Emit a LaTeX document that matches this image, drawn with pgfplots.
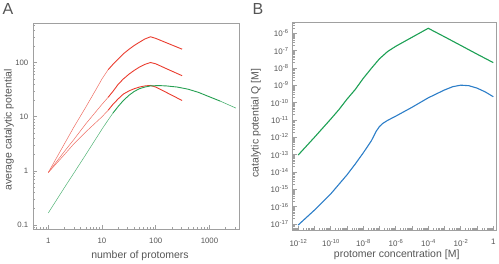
\documentclass[border=0pt]{standalone}
\usepackage{fontspec}
\setmainfont{Liberation Sans}
\usepackage{pgfplots}
\pgfplotsset{compat=1.18}
\definecolor{redA}{RGB}{234,60,46}
\definecolor{greenA}{RGB}{38,160,82}
\definecolor{greenB}{RGB}{28,160,84}
\definecolor{blueB}{RGB}{44,126,200}
\definecolor{axgray}{RGB}{160,160,160}
\definecolor{txtgray}{RGB}{85,85,85}
\newcommand{\tl}[1]{10\raisebox{0.7ex}{\fontsize{5.8}{6}\selectfont #1}}
\pgfplotsset{
  myax/.style={
    scale only axis,
    anchor=south west,
    axis line style={axgray, line width=0.9pt},
    every tick/.style={axgray, line width=0.6pt},
    major tick length=4pt,
    minor tick length=2pt,
    tick align=inside,
    xtick pos=bottom, ytick pos=left,
    tick label style={font=\fontsize{7.8}{8.5}\selectfont, text=txtgray},
    xticklabel style={anchor=north, inner sep=0pt, yshift=-9pt},
    yticklabel style={anchor=east, inner sep=0pt, xshift=-4.5pt},
  }
}
\tikzset{lab/.style={font=\fontsize{10.5}{12}\selectfont, text=txtgray, inner sep=0pt}}
\begin{document}
\begin{tikzpicture}
\useasboundingbox (0,0) rectangle (499pt,264pt);
\node[font=\fontsize{16}{18}\selectfont, text=txtgray] at (8pt,255pt) {A};
\node[font=\fontsize{16}{18}\selectfont, text=txtgray] at (258pt,255pt) {B};
\node[lab] at (140pt,8pt) {number of protomers};
\node[lab, rotate=90] at (9pt,134pt) {average catalytic potential};
\node[lab] at (396.7pt,9pt) {protomer concentration [M]};
\node[lab, rotate=90] at (256pt,141pt) {catalytic potential Q [M]};
\begin{loglogaxis}[myax,
  at={(33pt,35pt)}, width=206pt, height=206pt,
  xmin=0.52, xmax=3550, ymin=0.084, ymax=543,
  xtick={1,10,100,1000}, xticklabels={1,10,100,1000},
  ytick={0.1,1,10,100}, yticklabels={0.1,1,10,100},
  minor xtick={0.6,0.7,0.8,0.9,2,3,4,5,6,7,8,9,20,30,40,50,60,70,80,90,200,300,400,500,600,700,800,900,2000,3000},
  minor ytick={0.09,0.2,0.3,0.4,0.5,0.6,0.7,0.8,0.9,2,3,4,5,6,7,8,9,20,30,40,50,60,70,80,90,200,300,400,500},
]
% top red
\addplot[redA!75, line width=0.5pt] coordinates {
(1,0.93) (2,3.16) (3,6.46) (5,15.1) (8,33.9) (10,50.1) (13,74.1)};
\addplot[redA, line width=0.9pt] coordinates {
(13,74.1) (16,93.3) (20,117) (25,146) (32,178) (40,209) (50,240) (63,275) (80,302) (100,282) (158,234) (310,178)};
% middle red
\addplot[redA!75, line width=0.5pt] coordinates {
(1,0.93) (2,2.29) (3,3.8) (5,7.41) (10,17) (13,22.9)};
\addplot[redA, line width=0.9pt] coordinates {
(13,22.9) (16,29.5) (20,39.8) (25,50.1) (32,61.7) (40,72.4) (50,83.2) (63,93.3) (80,101) (100,95.5) (158,77.6) (310,57.5)};
% lower red
\addplot[redA!75, line width=0.5pt] coordinates {
(1,0.93) (2,2.0) (3,3.16) (5,5.25) (10,10) (13,13.2)};
\addplot[redA, line width=0.9pt] coordinates {
(13,13.2) (16,17) (20,21.4) (25,26.3) (32,30.2) (40,33.1) (50,35.5) (63,37.2) (80,38) (100,35.5) (158,28.2) (310,20)};
% green
\addplot[greenA!80, line width=0.5pt] coordinates {
(1,0.166) (2,0.49) (3,0.91) (5,2.0) (10,5.9) (13,8.7) (16,11.7)};
\addplot[greenA, line width=0.9pt] coordinates {
(16,11.7) (20,15.5) (25,20) (32,25.1) (40,29.5) (50,33.1) (63,35.5) (80,37.2) (100,37.6) (126,37.6) (158,37.2) (250,35.5) (400,32.4) (630,28.2) (1000,23.4) (1585,19.5)};
\addplot[greenA!80, line width=0.6pt] coordinates {
(1585,19.5) (3100,14.5)};
\end{loglogaxis}
\begin{loglogaxis}[myax,
  at={(292.7pt,34pt)}, width=204pt, height=207.3pt,
  xmin=4.6e-13, xmax=1.62, ymin=4.5e-18, ymax=4.1e-6,
  tick label style={font=\fontsize{8}{9}\selectfont},
  xtick={1e-12,1e-11,1e-10,1e-9,1e-8,1e-7,1e-6,1e-5,1e-4,1e-3,1e-2,1e-1,1},
  xticklabels={\tl{-12},,\tl{-10},,\tl{-8},,\tl{-6},,\tl{-4},,\tl{-2},,1},
  ytick={1e-17,1e-16,1e-15,1e-14,1e-13,1e-12,1e-11,1e-10,1e-9,1e-8,1e-7,1e-6},
  yticklabels={\tl{-17},\tl{-16},\tl{-15},\tl{-14},\tl{-13},\tl{-12},\tl{-11},\tl{-10},\tl{-9},\tl{-8},\tl{-7},\tl{-6}},
  minor xtick={5e-13,6e-13,7e-13,8e-13,9e-13,
    2e-12,3e-12,4e-12,5e-12,6e-12,7e-12,8e-12,9e-12,
    2e-11,3e-11,4e-11,5e-11,6e-11,7e-11,8e-11,9e-11,
    2e-10,3e-10,4e-10,5e-10,6e-10,7e-10,8e-10,9e-10,
    2e-9,3e-9,4e-9,5e-9,6e-9,7e-9,8e-9,9e-9,
    2e-8,3e-8,4e-8,5e-8,6e-8,7e-8,8e-8,9e-8,
    2e-7,3e-7,4e-7,5e-7,6e-7,7e-7,8e-7,9e-7,
    2e-6,3e-6,4e-6,5e-6,6e-6,7e-6,8e-6,9e-6,
    2e-5,3e-5,4e-5,5e-5,6e-5,7e-5,8e-5,9e-5,
    2e-4,3e-4,4e-4,5e-4,6e-4,7e-4,8e-4,9e-4,
    2e-3,3e-3,4e-3,5e-3,6e-3,7e-3,8e-3,9e-3,
    2e-2,3e-2,4e-2,5e-2,6e-2,7e-2,8e-2,9e-2,
    0.2,0.3,0.4,0.5,0.6,0.7,0.8,0.9},
  minor ytick={5e-18,6e-18,7e-18,8e-18,9e-18,
    2e-17,3e-17,4e-17,5e-17,6e-17,7e-17,8e-17,9e-17,
    2e-16,3e-16,4e-16,5e-16,6e-16,7e-16,8e-16,9e-16,
    2e-15,3e-15,4e-15,5e-15,6e-15,7e-15,8e-15,9e-15,
    2e-14,3e-14,4e-14,5e-14,6e-14,7e-14,8e-14,9e-14,
    2e-13,3e-13,4e-13,5e-13,6e-13,7e-13,8e-13,9e-13,
    2e-12,3e-12,4e-12,5e-12,6e-12,7e-12,8e-12,9e-12,
    2e-11,3e-11,4e-11,5e-11,6e-11,7e-11,8e-11,9e-11,
    2e-10,3e-10,4e-10,5e-10,6e-10,7e-10,8e-10,9e-10,
    2e-9,3e-9,4e-9,5e-9,6e-9,7e-9,8e-9,9e-9,
    2e-8,3e-8,4e-8,5e-8,6e-8,7e-8,8e-8,9e-8,
    2e-7,3e-7,4e-7,5e-7,6e-7,7e-7,8e-7,9e-7,
    2e-6,3e-6,4e-6},
]
\addplot[greenB, line width=1.1pt] coordinates {
(1e-12,9.5e-14) (1e-11,1e-12) (1e-10,1.12e-11) (3.16e-10,3.9e-11) (1e-9,1.58e-10) (3.16e-9,5.6e-10) (1e-8,2.5e-9) (3.16e-8,9.5e-9) (1e-7,3.4e-8) (3.16e-7,8.9e-8) (1e-6,1.78e-7) (1e-5,5.9e-7) (1e-4,1.95e-6) (1e-3,6.3e-7) (1e-2,2e-7) (1e-1,6.3e-8) (1,2.04e-8)};
\addplot[blueB, line width=1.1pt] coordinates {
(1e-12,8.7e-18) (1e-11,6.3e-17) (1e-10,5.4e-16) (1e-9,6.8e-15) (3.16e-9,2.8e-14) (1e-8,1.26e-13) (3.16e-8,6.3e-13) (6.3e-8,2.24e-12) (1e-7,4.2e-12) (1.58e-7,6.3e-12) (3.16e-7,9.5e-12) (1e-6,1.66e-11) (1e-5,5.4e-11) (1e-4,1.9e-10) (1e-3,5.4e-10) (3.16e-3,8.3e-10) (1e-2,1.02e-9) (3.16e-2,9.5e-10) (1e-1,6.9e-10) (3.16e-1,4.2e-10) (1,2.2e-10)};
\end{loglogaxis}
\end{tikzpicture}
\end{document}
